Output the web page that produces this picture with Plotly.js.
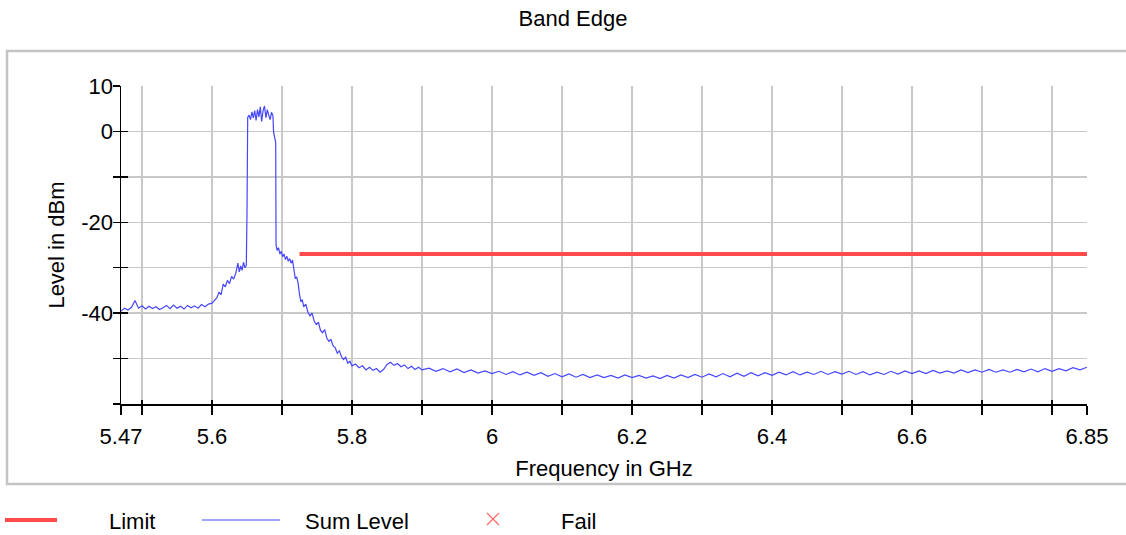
<!DOCTYPE html>
<html>
<head>
<meta charset="utf-8">
<script src="https://cdn.plot.ly/plotly-3.0.1.min.js"></script>
<style>html,body{margin:0;padding:0;background:#fff;}#chart{width:1126px;height:535px;}</style>
</head>
<body>
<div id="chart"></div>
<script>
// ---------------- data ----------------
const chartTitle = 'Band Edge';
const xTitle = 'Frequency in GHz';
const yTitle = 'Level in dBm';
const legendLabels = ['Limit', 'Sum Level', 'Fail'];

const xTickVals = [5.47, 5.5, 5.6, 5.7, 5.8, 5.9, 6.0, 6.1, 6.2, 6.3, 6.4, 6.5, 6.6, 6.7, 6.8, 6.85];
const xTickText = ['5.47', '', '5.6', '', '5.8', '', '6', '', '6.2', '', '6.4', '', '6.6', '', '', '6.85'];
const yTickVals = [-60, -50, -40, -30, -20, -10, 0, 10];
const yTickText = ['', '', '-40', '', '-20', '', '0', '10'];

const limitFreq = [5.725, 6.85];
const limitLevel = [-27, -27];

const sumFreq = [
 5.470,5.475,5.480,5.485,5.490,5.495,5.500,5.505,5.510,5.515,5.520,5.525,5.530,5.535,5.540,5.545,5.550,5.555,5.560,5.565,5.570,5.575,5.580,5.585,5.590,5.595,5.600,
 5.603,5.607,5.610,5.613,5.616,5.619,5.622,5.625,5.628,5.631,5.634,5.637,5.639,5.641,5.643,5.645,5.647,5.649,
 5.650,5.651,5.653,5.655,5.657,5.659,5.661,5.663,5.665,5.667,5.669,5.671,5.673,5.675,5.677,5.679,5.681,5.683,5.685,5.687,5.688,5.690,5.691,
 5.6915,5.693,5.695,5.697,5.699,5.701,5.703,5.705,5.707,5.709,5.711,5.713,5.715,5.717,5.719,5.721,5.723,5.725,5.727,5.729,5.731,5.734,5.737,
 5.740,5.743,5.746,5.749,5.752,5.755,5.758,5.761,5.764,5.767,5.770,5.773,5.776,5.779,5.782,5.785,5.788,5.791,5.794,5.797,5.800,
 5.805,5.810,5.815,5.820,5.825,5.830,5.835,5.840,5.845,5.850,5.855,5.860,5.865,5.870,5.875,5.880,5.885,5.890,5.895,5.900,
 5.91,5.92,5.93,5.94,5.95,5.96,5.97,5.98,5.99,6.00,6.01,6.02,6.03,6.04,6.05,6.06,6.07,6.08,6.09,6.10,
 6.11,6.12,6.13,6.14,6.15,6.16,6.17,6.18,6.19,6.20,6.21,6.22,6.23,6.24,6.25,6.26,6.27,6.28,6.29,6.30,
 6.31,6.32,6.33,6.34,6.35,6.36,6.37,6.38,6.39,6.40,6.41,6.42,6.43,6.44,6.45,6.46,6.47,6.48,6.49,6.50,
 6.51,6.52,6.53,6.54,6.55,6.56,6.57,6.58,6.59,6.60,6.61,6.62,6.63,6.64,6.65,6.66,6.67,6.68,6.69,6.70,
 6.71,6.72,6.73,6.74,6.75,6.76,6.77,6.78,6.79,6.80,6.81,6.82,6.83,6.84,6.85
];
const sumLevel = [
 -39.6,-38.9,-39.3,-38.7,-37.2,-38.9,-38.4,-39.1,-38.5,-39.0,-38.6,-39.2,-38.8,-38.3,-39.0,-38.2,-38.9,-38.5,-39.1,-38.3,-38.8,-38.4,-38.9,-38.1,-38.6,-38.0,-37.8,
 -37.2,-36.6,-35.4,-35.9,-33.6,-34.2,-32.8,-33.5,-31.9,-32.5,-31.2,-29.0,-30.9,-29.6,-30.6,-28.8,-30.0,-29.5,
 -18.0,3.1,3.6,2.6,4.3,3.0,4.6,2.4,4.8,3.2,5.4,2.2,4.6,5.6,3.0,4.8,3.6,2.6,4.2,3.5,-0.2,-1.8,-2.4,
 -25.0,-26.2,-25.6,-27.0,-26.4,-27.6,-27.0,-28.2,-27.5,-28.6,-28.0,-29.0,-28.3,-30.2,-32.4,-32.0,-33.4,-35.8,-37.5,-37.0,-38.6,-38.0,-39.8,
 -40.6,-40.0,-41.8,-42.5,-42.0,-43.8,-44.3,-43.6,-45.5,-46.2,-45.8,-47.2,-47.6,-48.8,-48.3,-49.6,-50.2,-49.7,-51.0,-50.6,-51.6,
 -51.2,-52.0,-51.6,-52.5,-51.9,-52.6,-52.2,-53.0,-52.4,-51.3,-50.8,-51.5,-51.1,-51.8,-51.4,-52.2,-51.7,-52.4,-51.9,-52.5,
 -52.1,-52.8,-52.2,-52.9,-52.3,-53.1,-52.5,-53.2,-52.7,-53.3,-52.8,-53.5,-52.9,-53.6,-53.0,-53.7,-53.1,-53.9,-53.3,-54.0,
 -53.4,-54.1,-53.5,-54.2,-53.6,-54.2,-53.7,-54.3,-53.6,-54.2,-53.7,-54.3,-53.8,-54.4,-53.7,-54.3,-53.6,-54.2,-53.5,-54.1,
 -53.4,-54.0,-53.3,-54.0,-53.2,-53.9,-53.1,-53.8,-53.1,-53.7,-53.0,-53.6,-52.9,-53.6,-53.0,-53.5,-52.8,-53.5,-52.9,-53.4,
 -52.8,-53.5,-52.9,-53.6,-53.0,-53.5,-52.8,-53.4,-52.7,-53.3,-52.7,-53.3,-52.6,-53.2,-52.7,-53.2,-52.5,-53.1,-52.5,-53.0,
 -52.4,-53.0,-52.5,-53.0,-52.4,-52.9,-52.3,-52.9,-52.2,-52.8,-52.2,-52.7,-52.0,-52.5,-51.9
];

// ---------------- layout helpers (pixel geometry) ----------------
const W = 1126, H = 535;
const L = 121, R = 1087, T = 86, B = 404;
const px = p => (p - L) / (R - L);
const py = p => (B - p) / (B - T);

const FONT = 'Arial, "Liberation Sans", sans-serif';
const GRID = '#c8c8c8';

const traces = [
  {x: sumFreq, y: sumLevel, type: 'scatter', mode: 'lines', name: legendLabels[1],
   line: {color: '#4646ff', width: 1.2}, hoverinfo: 'x+y'},
  {x: limitFreq, y: limitLevel, type: 'scatter', mode: 'lines', name: legendLabels[0],
   line: {color: '#ff4b4b', width: 4}},
  {x: [], y: [], type: 'scatter', mode: 'markers', xaxis: 'x2', yaxis: 'y2', name: legendLabels[2],
   marker: {symbol: 'x-thin-open', color: '#ff6b6b', size: 12}}
];

const legY = 520;
const shapes = [
  // outer frame (open on the right, like the reference)
  {type: 'rect', xref: 'paper', yref: 'paper', x0: px(7), x1: px(1140), y0: py(51), y1: py(484),
   line: {color: '#c4c4c4', width: 2.5}, fillcolor: 'rgba(0,0,0,0)', layer: 'below'},
  // legend symbols
  {type: 'line', xref: 'paper', yref: 'paper', x0: px(5), x1: px(57), y0: py(legY), y1: py(legY),
   line: {color: '#ff4b4b', width: 4}},
  {type: 'line', xref: 'paper', yref: 'paper', x0: px(202), x1: px(280), y0: py(legY), y1: py(legY),
   line: {color: '#4646ff', width: 1.2}},
  {type: 'line', xref: 'paper', yref: 'paper', x0: px(487), x1: px(499), y0: py(legY - 7), y1: py(legY + 5),
   line: {color: '#ff6b6b', width: 1.3}},
  {type: 'line', xref: 'paper', yref: 'paper', x0: px(487), x1: px(499), y0: py(legY + 5), y1: py(legY - 7),
   line: {color: '#ff6b6b', width: 1.3}}
];

const legendText = [107, 303, 559];
const annotations = legendLabels.map((t, i) => ({
  text: t, xref: 'paper', yref: 'paper', x: px(legendText[i]), y: py(legY + 1),
  xanchor: 'left', yanchor: 'middle', showarrow: false, font: {family: FONT, size: 22, color: '#000'}
}));

const layout = {
  width: W, height: H,
  margin: {l: L, r: W - R, t: T, b: H - B, pad: 0},
  paper_bgcolor: '#fff', plot_bgcolor: '#fff',
  font: {family: FONT, size: 22, color: '#000'},
  showlegend: false,
  title: {text: chartTitle, x: 573 / W, xref: 'container', xanchor: 'center',
          y: 1 - 18 / H, yref: 'container', yanchor: 'middle', font: {family: FONT, size: 22, color: '#000'}},
  xaxis: {
    range: [5.47, 6.85], tickmode: 'array', tickvals: xTickVals, ticktext: xTickText,
    ticks: 'outside', ticklen: 9, tickwidth: 1.5, tickcolor: '#000', ticklabelstandoff: 3,
    showline: true, linecolor: '#000', linewidth: 1.5,
    showgrid: true, gridcolor: GRID, gridwidth: 1.5, zeroline: false,
    tickfont: {family: FONT, size: 22, color: '#000'},
    title: {text: xTitle, standoff: 12, font: {family: FONT, size: 22, color: '#000'}},
    automargin: false, fixedrange: true
  },
  yaxis: {
    range: [-60, 10], tickmode: 'array', tickvals: yTickVals, ticktext: yTickText,
    ticks: 'outside', ticklen: 7, tickwidth: 1.5, tickcolor: '#000', ticklabelstandoff: -5,
    showline: true, linecolor: '#000', linewidth: 1.5,
    showgrid: true, gridcolor: GRID, gridwidth: 1.5, zeroline: false,
    tickfont: {family: FONT, size: 22, color: '#000'},
    title: {text: yTitle, standoff: 10, font: {family: FONT, size: 22, color: '#000'}},
    automargin: false, fixedrange: true
  },
  xaxis2: {overlaying: 'x', matches: 'x', anchor: 'y', side: 'bottom', tickmode: 'array', tickvals: xTickVals,
           ticks: 'inside', ticklen: 4, tickwidth: 1.5, tickcolor: '#000', showticklabels: false,
           showgrid: false, showline: false, zeroline: false, fixedrange: true},
  yaxis2: {overlaying: 'y', matches: 'y', anchor: 'x', side: 'left', tickmode: 'array', tickvals: yTickVals,
           ticks: 'inside', ticklen: 7, tickwidth: 1.5, tickcolor: '#000', showticklabels: false,
           showgrid: false, showline: false, zeroline: false, fixedrange: true},
  shapes: shapes,
  annotations: annotations
};

Plotly.newPlot('chart', traces, layout, {displayModeBar: false, staticPlot: true});
</script>
</body>
</html>
